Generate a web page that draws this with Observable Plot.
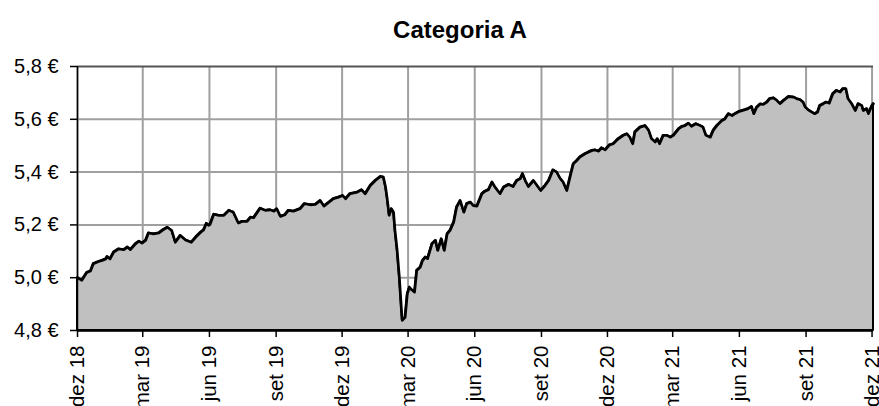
<!DOCTYPE html>
<html><head><meta charset="utf-8">
<script src="https://cdn.jsdelivr.net/npm/d3@7"></script>
<script src="https://cdn.jsdelivr.net/npm/@observablehq/plot@0.6"></script>
<style>
body{margin:0;background:#fff;}
#wrap{position:relative;width:879px;height:406px;overflow:hidden;font-family:"Liberation Sans",Arial,sans-serif;background:#fff;}
#title{position:absolute;left:0;width:920px;top:16px;text-align:center;font-weight:bold;font-size:24px;line-height:28px;color:#000;}
</style></head><body>
<div id="wrap"><div id="title">Categoria A</div></div>
<script>
const dates = [
"2018-12-01","2018-12-07","2018-12-14","2018-12-19","2018-12-23","2018-12-30","2019-01-04","2019-01-09","2019-01-11","2019-01-15",
"2019-01-20","2019-01-27","2019-02-03","2019-02-08","2019-02-12","2019-02-19","2019-02-24","2019-02-28","2019-03-05","2019-03-09",
"2019-03-16","2019-03-23","2019-03-29","2019-04-04","2019-04-10","2019-04-15","2019-04-22","2019-04-29","2019-05-07","2019-05-13",
"2019-05-20","2019-05-24","2019-05-28","2019-05-31","2019-06-02","2019-06-07","2019-06-14","2019-06-21","2019-06-28","2019-07-04",
"2019-07-11","2019-07-16","2019-07-23","2019-07-28","2019-08-01","2019-08-10","2019-08-17","2019-08-24","2019-08-29","2019-09-02",
"2019-09-07","2019-09-13","2019-09-18","2019-09-25","2019-10-04","2019-10-10","2019-10-18","2019-10-25","2019-11-01","2019-11-06",
"2019-11-13","2019-11-19","2019-11-26","2019-12-02","2019-12-06","2019-12-12","2019-12-22","2019-12-28","2020-01-02","2020-01-09",
"2020-01-16","2020-01-23","2020-01-27","2020-01-30","2020-02-01","2020-02-04","2020-02-07","2020-02-10","2020-02-12","2020-02-15",
"2020-02-18","2020-02-21","2020-02-22","2020-02-24","2020-02-26","2020-02-29","2020-03-03","2020-03-06","2020-03-10","2020-03-13",
"2020-03-18","2020-03-21","2020-03-25","2020-03-28","2020-04-03","2020-04-08","2020-04-11","2020-04-16","2020-04-20","2020-04-24",
"2020-04-28","2020-05-03","2020-05-07","2020-05-12","2020-05-17","2020-05-21","2020-05-26","2020-05-30","2020-06-04","2020-06-11",
"2020-06-15","2020-06-20","2020-06-25","2020-06-29","2020-07-06","2020-07-11","2020-07-18","2020-07-24","2020-07-29","2020-08-03",
"2020-08-06","2020-08-10","2020-08-14","2020-08-21","2020-08-26","2020-08-31","2020-09-06","2020-09-11","2020-09-17","2020-09-22",
"2020-09-27","2020-10-01","2020-10-06","2020-10-11","2020-10-15","2020-10-20","2020-10-24","2020-10-31","2020-11-05","2020-11-10",
"2020-11-14","2020-11-19","2020-11-23","2020-11-28","2020-12-04","2020-12-09","2020-12-16","2020-12-23","2020-12-28","2021-01-01",
"2021-01-05","2021-01-08","2021-01-15","2021-01-22","2021-01-27","2021-01-31","2021-02-05","2021-02-08","2021-02-11","2021-02-16",
"2021-02-21","2021-02-26","2021-03-02","2021-03-09","2021-03-14","2021-03-18","2021-03-23","2021-03-27","2021-04-02","2021-04-08",
"2021-04-12","2021-04-16","2021-04-22","2021-04-26","2021-05-01","2021-05-08","2021-05-12","2021-05-17","2021-05-22","2021-05-26",
"2021-06-01","2021-06-09","2021-06-13","2021-06-18","2021-06-21","2021-06-25","2021-06-30","2021-07-04","2021-07-09","2021-07-13",
"2021-07-18","2021-07-23","2021-07-27","2021-08-01","2021-08-08","2021-08-15","2021-08-19","2021-08-24","2021-08-28","2021-08-31",
"2021-09-04","2021-09-09","2021-09-13","2021-09-17","2021-09-20","2021-09-25","2021-09-29","2021-10-03","2021-10-08","2021-10-13",
"2021-10-18","2021-10-22","2021-10-26","2021-10-29","2021-11-03","2021-11-08","2021-11-12","2021-11-17","2021-11-19","2021-11-24",
"2021-11-26","2021-12-01","2021-12-03"
];
const values = [
5.000,4.990,5.020,5.025,5.053,5.061,5.065,5.071,5.080,5.071,
5.097,5.109,5.106,5.116,5.106,5.128,5.138,5.131,5.141,5.169,
5.166,5.169,5.181,5.191,5.179,5.134,5.160,5.143,5.134,5.153,
5.172,5.181,5.206,5.198,5.202,5.240,5.236,5.236,5.255,5.248,
5.207,5.213,5.213,5.229,5.227,5.263,5.255,5.257,5.252,5.261,
5.232,5.238,5.255,5.252,5.261,5.280,5.276,5.277,5.292,5.271,
5.286,5.299,5.305,5.311,5.299,5.318,5.324,5.333,5.318,5.349,
5.368,5.383,5.381,5.343,5.305,5.236,5.261,5.248,5.179,5.103,
5.002,4.876,4.838,4.844,4.850,4.939,4.964,4.954,4.945,5.027,
5.040,5.065,5.078,5.072,5.128,5.141,5.103,5.147,5.103,5.166,
5.179,5.210,5.267,5.292,5.248,5.280,5.286,5.273,5.271,5.318,
5.327,5.333,5.362,5.343,5.318,5.343,5.353,5.345,5.368,5.375,
5.394,5.366,5.345,5.368,5.349,5.330,5.349,5.368,5.408,5.400,
5.375,5.362,5.330,5.387,5.431,5.444,5.457,5.469,5.476,5.482,
5.484,5.479,5.492,5.484,5.503,5.507,5.526,5.539,5.545,5.532,
5.507,5.552,5.570,5.576,5.558,5.526,5.514,5.526,5.507,5.539,
5.539,5.532,5.539,5.563,5.573,5.576,5.585,5.573,5.583,5.576,
5.570,5.539,5.532,5.558,5.576,5.595,5.601,5.621,5.614,5.621,
5.630,5.636,5.640,5.648,5.621,5.646,5.658,5.656,5.665,5.678,
5.681,5.671,5.659,5.671,5.686,5.684,5.678,5.674,5.665,5.646,
5.636,5.627,5.621,5.627,5.652,5.659,5.665,5.661,5.697,5.709,
5.703,5.716,5.716,5.678,5.659,5.633,5.659,5.652,5.633,5.640,
5.621,5.652,5.659
];
const xTickDates = ["2018-12-01","2019-03-01","2019-06-01","2019-09-01","2019-12-01","2020-03-01","2020-06-01","2020-09-01","2020-12-01","2021-03-01","2021-06-01","2021-09-01","2021-12-01"];
const xTickLabels = ["dez 18","mar 19","jun 19","set 19","dez 19","mar 20","jun 20","set 20","dez 20","mar 21","jun 21","set 21","dez 21"];
const yTicks = [4.8, 5.0, 5.2, 5.4, 5.6, 5.8];
const yTickLabels = ["4,8 €","5,0 €","5,2 €","5,4 €","5,6 €","5,8 €"];

const data = dates.map((d, i) => ({date: new Date(d), value: values[i]}));
const xt = xTickDates.map(d => new Date(d));
const x0 = new Date("2018-12-01"), x1 = new Date("2021-12-03");
const yMin = yTicks[0], yMax = yTicks[yTicks.length - 1];
const font = '"Liberation Sans", Arial, sans-serif';

const chart = Plot.plot({
  width: 879, height: 406,
  marginTop: 66, marginBottom: 76, marginLeft: 77, marginRight: 6,
  style: {fontFamily: font, fontSize: "20px", color: "#000", background: "#fff", overflow: "visible"},
  x: {type: "utc", domain: [x0, x1], label: null},
  y: {domain: [yMin, yMax], label: null},
  marks: [
    Plot.ruleX(xt, {stroke: "#a0a0a0", strokeWidth: 2}),
    Plot.ruleY(yTicks.slice(0, -1), {stroke: "#a0a0a0", strokeWidth: 2}),
    Plot.ruleY([yMax], {stroke: "#555", strokeWidth: 2}),
    Plot.areaY(data, {x: "date", y1: () => yMin, y2: "value", fill: "#c0c0c0", stroke: "#000", strokeWidth: 2}),
    Plot.lineY(data, {x: "date", y: "value", stroke: "#000", strokeWidth: 2.6}),
    Plot.ruleX([x0], {stroke: "#000", strokeWidth: 1.5}),
    Plot.ruleY([yMin], {stroke: "#000", strokeWidth: 2.5}),
    Plot.axisY(yTicks, {label: null, tickFormat: d => yTickLabels[yTicks.indexOf(d)], tickSize: 7, tickPadding: 12, fontSize: 20, stroke: "#000", strokeWidth: 1.5}),
    Plot.axisX(xt, {label: null, tickFormat: d => xTickLabels[xt.findIndex(t => +t === +d)], tickRotate: -90, tickSize: 7, tickPadding: 8, fontSize: 20.5, stroke: "#000", strokeWidth: 1.5})
  ]
});
document.getElementById("wrap").insertBefore(chart, document.getElementById("title"));
</script>
</body></html>
